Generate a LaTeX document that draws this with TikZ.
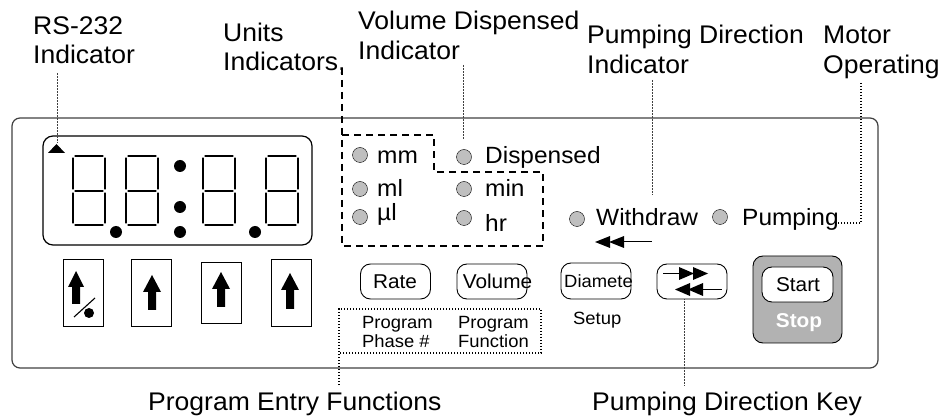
\documentclass[tikz,border=0pt]{standalone}
\usepackage{fontspec}
\setmainfont{Liberation Sans}[FakeStretch=1.04]
\usetikzlibrary{positioning}

\newcommand{\lblfont}{\fontsize{25.5}{29}\selectfont}
\newcommand{\ledfont}{\fontsize{23.5}{26}\selectfont}
\newcommand{\keyfont}{\fontsize{20}{22}\selectfont}
\newcommand{\smallfont}{\fontsize{17.7}{19}\selectfont}

\tikzset{
	lbl/.style={anchor=base west, inner sep=0pt, font=\lblfont},
	ledlbl/.style={anchor=base west, inner sep=0pt, font=\ledfont},
	led/.style={circle, draw, thin, fill=black!25, minimum size=15pt, inner sep=0pt},
	seg/.style={line width=1.1pt, line cap=round},
	keybox/.style={draw, line width=0.9pt, minimum width=40pt},
	softkey/.style={draw, line width=0.9pt, rounded corners=10pt, minimum width=70pt, minimum height=35pt},
	thinlead/.style={draw=black!75, line width=0.5pt, densely dotted},
	dotlead/.style={line width=1.3pt, dash pattern=on 1.3pt off 1.7pt},
	dashlead/.style={line width=1.6pt, dash pattern=on 7pt off 5pt}
}

\begin{document}
\begin{tikzpicture}[x=1pt, y=-1pt]

	\useasboundingbox (0,0) rectangle (942,419);

	%%% Panel %%%
	\draw[black!75, line width=1.2pt, rounded corners=8pt] (12,118) rectangle (878,368);
	\draw[line width=1.2pt, rounded corners=10pt] (43,136) rectangle (312,245);

	% rs-232 triangle
	\fill (48,153) -- (65,153) -- (56.5,144) -- cycle;

	% digits
	\foreach \x in {72,125,202,265} {
		\draw[seg] (\x+3,156) -- (\x+31,156);
		\draw[seg] (\x+3,191) -- (\x+31,191);
		\draw[seg] (\x+3,225) -- (\x+31,225);
		\draw[seg] (\x+1,158) -- (\x+1,189);
		\draw[seg] (\x+33,158) -- (\x+33,189);
		\draw[seg] (\x+1,193) -- (\x+1,223);
		\draw[seg] (\x+33,193) -- (\x+33,223);
	}
	\fill (116,232) circle (6);
	\fill (180,166) circle (6);
	\fill (180,207) circle (6);
	\fill (180,232) circle (6);
	\fill (255,232) circle (6);

	%%% Digit keys %%%
	\node[keybox, minimum height=67pt] (key1) at (83,292.5) {};
	\node[keybox, minimum height=67pt] (key2) at (151,292.5) {};
	\node[keybox, minimum height=61pt] (key3) at (221,292.5) {};
	\node[keybox, minimum height=67pt] (key4) at (291,292.5) {};

	\fill (76,271) -- (84,287) -- (80,287) -- (80,304) -- (72,304) -- (72,287) -- (68,287) -- cycle;
	\fill (152,275) -- (161,292) -- (156,292) -- (156,310) -- (148,310) -- (148,292) -- (143,292) -- cycle;
	\fill (221,272) -- (230,289) -- (225,289) -- (225,307) -- (217,307) -- (217,289) -- (212,289) -- cycle;
	\fill (290,273) -- (299,290) -- (294,290) -- (294,309) -- (286,309) -- (286,290) -- (281,290) -- cycle;
	\draw[line width=1.1pt] (74,317) -- (95,298);
	\fill (89,313) circle (5);

	%%% Units indicators %%%
	\node[led] (mmled) at (360,155) {};
	\node[led] (mlled) at (360,189) {};
	\node[led] (ulled) at (360,217) {};
	\node[led] (displed) at (464,157) {};
	\node[led] (minled) at (464,189) {};
	\node[led] (hrled) at (464,218) {};
	\node[ledlbl] (mm) at (377,164) {mm};
	\node[ledlbl] (ml) at (377,197) {ml};
	\node[ledlbl] (ul) at (377,221) {µl};
	\node[ledlbl] (disp) at (485,164) {Dispensed};
	\node[ledlbl] (min) at (485,197) {min};
	\node[ledlbl] (hr) at (485,232) {hr};

	%%% Direction / motor %%%
	\node[led] (wdled) at (577,219) {};
	\node[led] (pumpled) at (720,217) {};
	\node[ledlbl] (wd) at (596,226) {Withdraw};
	\node[ledlbl] (pump) at (742,226) {Pumping};
	\draw[line width=1pt] (620,242) -- (652,242);
	\fill (595,242) -- (610,236) -- (610,248) -- cycle;
	\fill (609,242) -- (624,236) -- (624,248) -- cycle;

	%%% Soft keys %%%
	\node[softkey] (ratekey) at (395.5,281.5) {};
	\node[softkey] (volkey) at (492,281.5) {};
	\node[softkey, minimum height=36pt] (diakey) at (596,281) {};
	\node[softkey] (dirkey) at (692,281.5) {};
	\node[anchor=base, inner sep=0pt, font=\keyfont] (rate) at (395,289) {Rate};
	\node[anchor=base, inner sep=0pt, font=\keyfont] (vol) at (497.5,289) {Volume};
	\node[anchor=base, inner sep=0pt, font=\smallfont] (dia) at (598.5,288) {Diamete};
	\node[anchor=base west, inner sep=0pt, font=\smallfont] (setup) at (573,325) {Setup};
	\node[anchor=base west, inner sep=0pt, font=\smallfont] (prg1) at (362,329) {Program};
	\node[anchor=base west, inner sep=0pt, font=\smallfont] (phase) at (362,348) {Phase \#};
	\node[anchor=base west, inner sep=0pt, font=\smallfont] (prg2) at (458,329) {Program};
	\node[anchor=base west, inner sep=0pt, font=\smallfont] (func) at (458,348) {Function};

	% direction key arrows
	\draw[line width=1pt] (663,273.5) -- (681,273.5);
	\fill (694,273.5) -- (679,267) -- (679,280) -- cycle;
	\fill (708,273.5) -- (693,267) -- (693,280) -- cycle;
	\draw[line width=1pt] (700,289.5) -- (722,289.5);
	\fill (675,289.5) -- (690,283) -- (690,296) -- cycle;
	\fill (688,289.5) -- (703,283) -- (703,296) -- cycle;

	% start / stop
	\node[draw, line width=0.9pt, fill=black!30, rounded corners=10pt, minimum width=89pt, minimum height=87pt] (stopkey) at (797.5,299.5) {};
	\node[draw, line width=0.9pt, fill=white, rounded corners=10pt, minimum width=71pt, minimum height=35pt] (startkey) at (797.5,284.5) {};
	\node[anchor=base, inner sep=0pt, font=\keyfont] (start) at (798,292) {Start};
	\node[anchor=base, inner sep=0pt, font=\keyfont\bfseries, text=white] (stop) at (799,328) {Stop};

	%%% Labels %%%
	\node[lbl] (rsA) at (33,35) {RS-232};
	\node[lbl] (rsB) at (33,64) {Indicator};
	\node[lbl] (unitsA) at (223,42) {Units};
	\node[lbl] (unitsB) at (223,71) {Indicators,};
	\node[lbl] (volA) at (358,30) {Volume Dispensed};
	\node[lbl] (volB) at (358,60) {Indicator};
	\node[lbl] (dirA) at (587,44) {Pumping Direction};
	\node[lbl] (dirB) at (587,74) {Indicator};
	\node[lbl] (motorA) at (823,44) {Motor};
	\node[lbl] (motorB) at (823,74) {Operating};
	\node[lbl] (entry) at (148,410) {Program Entry Functions};
	\node[lbl] (dirkeylbl) at (592,410) {Pumping Direction Key};

	%%% Leaders %%%
	\coordinate (rsfrom) at (57,73);
	\coordinate (rsto) at (57,143);
	\coordinate (volfrom) at (463,65);
	\coordinate (volto) at (463,140);
	\coordinate (dirfrom) at (652,80);
	\coordinate (dirto) at (652,195);
	\coordinate (motorfrom) at (861,83);
	\coordinate (motorto) at (838,223);
	\coordinate (keyto) at (684,385);
	\coordinate (entryfrom) at (339,385);

	\draw[thinlead] (rsfrom) -- (rsto);
	\draw[thinlead] (volfrom) -- (volto);
	\draw[thinlead] (dirfrom) -- (dirto);
	\draw[thinlead] (dirkey.south -| keyto) -- (keyto);
	\draw[dotlead] (motorfrom) |- (motorto);
	\draw[dotlead] (entryfrom) -- (339,309) -- (541,309) -- (541,353) -- (339,353);
	\draw[dashlead] (342,68) -- (342,246) -- (543,246) -- (543,172) -- (434,172) -- (434,135) -- (342,135);

\end{tikzpicture}
\end{document}
